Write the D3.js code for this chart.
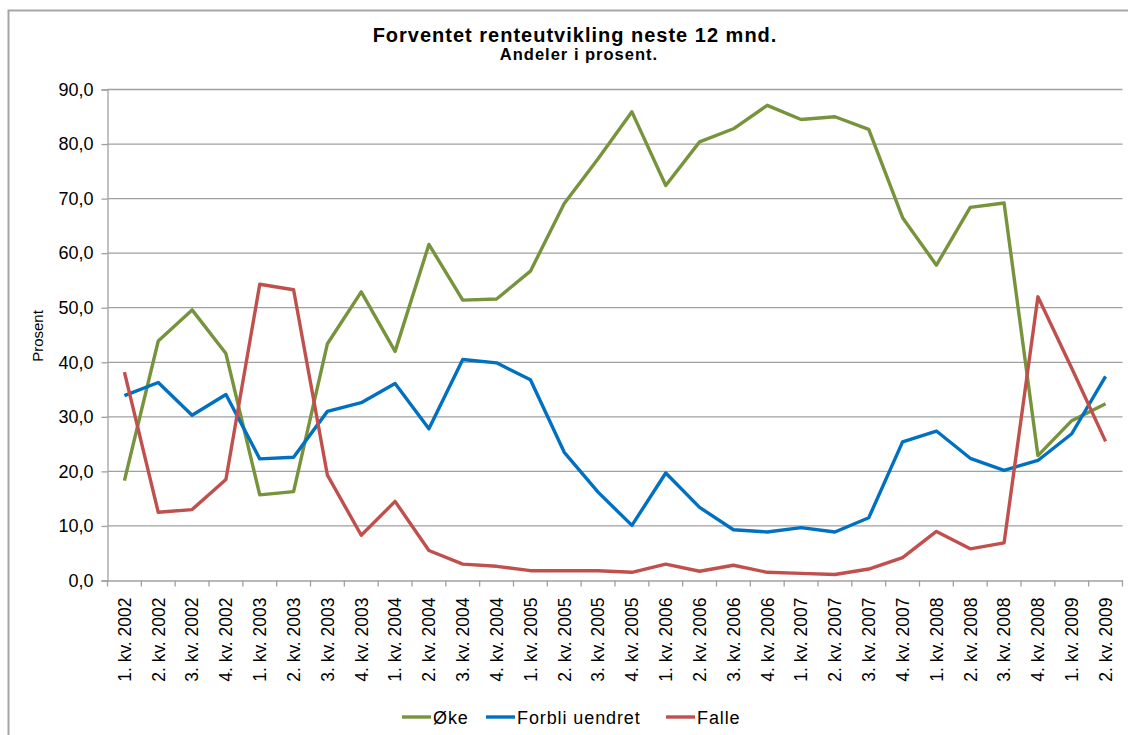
<!DOCTYPE html>
<html>
<head>
<meta charset="utf-8">
<script src="https://cdn.jsdelivr.net/npm/d3@7"></script>
<style>
  html, body { margin: 0; padding: 0; background: #fff; overflow: hidden; }
  svg { display: block; font-family: "Liberation Sans", Arial, sans-serif; }
</style>
</head>
<body>
<div id="chart"></div>
<script>
// Categories (quarters)
const quarters = [
    '1. kv. 2002', '2. kv. 2002', '3. kv. 2002', '4. kv. 2002',
    '1. kv. 2003', '2. kv. 2003', '3. kv. 2003', '4. kv. 2003',
    '1. kv. 2004', '2. kv. 2004', '3. kv. 2004', '4. kv. 2004',
    '1. kv. 2005', '2. kv. 2005', '3. kv. 2005', '4. kv. 2005',
    '1. kv. 2006', '2. kv. 2006', '3. kv. 2006', '4. kv. 2006',
    '1. kv. 2007', '2. kv. 2007', '3. kv. 2007', '4. kv. 2007',
    '1. kv. 2008', '2. kv. 2008', '3. kv. 2008', '4. kv. 2008',
    '1. kv. 2009', '2. kv. 2009'
];

// Series values (percent)
const oke = [18.3, 43.9, 49.6, 41.6, 15.7, 16.3, 43.4, 52.9, 42.0, 61.6,
    51.4, 51.6, 56.7, 69.1, 77.3, 85.9, 72.4, 80.4, 82.8, 87.1,
    84.5, 85.0, 82.7, 66.5, 57.8, 68.4, 69.2, 22.9, 29.3, 32.4];
const forbli = [33.9, 36.3, 30.3, 34.1, 22.3, 22.6, 31.0, 32.6, 36.1, 27.8,
    40.5, 39.9, 36.8, 23.5, 16.2, 10.1, 19.7, 13.4, 9.3, 8.9,
    9.7, 8.9, 11.5, 25.4, 27.4, 22.4, 20.2, 22.0, 26.9, 37.4];
const falle = [38.2, 12.5, 13.0, 18.5, 54.3, 53.3, 19.3, 8.3, 14.5, 5.5,
    3.0, 2.6, 1.8, 1.8, 1.8, 1.5, 3.0, 1.7, 2.8, 1.5,
    1.3, 1.1, 2.1, 4.2, 9.0, 5.8, 6.9, 52.0, 38.9, 25.5];

const yTicks = [0, 10, 20, 30, 40, 50, 60, 70, 80, 90];

const series = [
    { name: 'Øke', values: oke, color: '#77933C' },
    { name: 'Forbli uendret', values: forbli, color: '#0070C0' },
    { name: 'Falle', values: falle, color: '#C0504D' }
];

const width = 1128, height = 735;
const plot = { left: 107.5, right: 1122.5, top: 89.5, bottom: 580.5 };

const svg = d3.select('#chart').append('svg')
    .attr('width', width)
    .attr('height', height);

// Outer chart frame (only top and left edges fall inside the picture)
svg.append('path')
    .attr('d', 'M8.5,760 V10.5 H1200')
    .attr('fill', 'none')
    .attr('stroke', '#a6a6a6')
    .attr('stroke-width', 2);

// Scales
const x = d3.scaleBand()
    .domain(quarters)
    .range([plot.left, plot.right]);
const y = d3.scaleLinear()
    .domain([0, 90])
    .range([plot.bottom, plot.top]);
const cx = d => x(d) + x.bandwidth() / 2;
const fmt = v => d3.format('.1f')(v).replace('.', ',');

// Gridlines
svg.append('g')
    .selectAll('line')
    .data(yTicks.filter(t => t > 0))
    .join('line')
    .attr('x1', plot.left).attr('x2', plot.right)
    .attr('y1', d => y(d)).attr('y2', d => y(d))
    .attr('stroke', '#a0a0a0')
    .attr('stroke-width', 1.3);

// Y axis
const yAxis = svg.append('g')
    .attr('transform', `translate(${plot.left},0)`)
    .call(d3.axisLeft(y).tickValues(yTicks).tickSize(6).tickPadding(8).tickFormat(fmt));
yAxis.select('.domain').attr('stroke', '#a0a0a0').attr('stroke-width', 1.3);
yAxis.selectAll('.tick line').attr('stroke', '#a0a0a0').attr('stroke-width', 1.3);
yAxis.selectAll('.tick text')
    .attr('fill', '#000')
    .style('font-size', '18px')
    .style('font-family', '"Liberation Sans", Arial, sans-serif');

// X axis (labels)
const xAxis = svg.append('g')
    .attr('transform', `translate(0,${plot.bottom})`)
    .call(d3.axisBottom(x).tickSize(0).tickPadding(0));
xAxis.select('.domain').attr('stroke', '#a0a0a0').attr('stroke-width', 1.3);
xAxis.selectAll('.tick text')
    .attr('fill', '#000')
    .attr('transform', 'rotate(-90)')
    .attr('text-anchor', 'end')
    .attr('x', -17)
    .attr('y', 0)
    .attr('dy', '0.36em')
    .style('font-size', '17.5px')
    .style('font-family', '"Liberation Sans", Arial, sans-serif');

// X tick marks at category boundaries
svg.append('g')
    .selectAll('line')
    .data(quarters.map(q => x(q)).concat([plot.right]))
    .join('line')
    .attr('x1', d => d).attr('x2', d => d)
    .attr('y1', plot.bottom).attr('y2', plot.bottom + 6)
    .attr('stroke', '#a0a0a0')
    .attr('stroke-width', 1.3);

// Lines
const line = d3.line()
    .x((d, i) => cx(quarters[i]))
    .y(d => y(d));

svg.append('g')
    .selectAll('path')
    .data(series)
    .join('path')
    .attr('d', d => line(d.values))
    .attr('fill', 'none')
    .attr('stroke', d => d.color)
    .attr('stroke-width', 3.4)
    .attr('stroke-linejoin', 'round');

// Title
svg.append('text')
    .attr('x', 575).attr('y', 42)
    .attr('text-anchor', 'middle')
    .style('font-size', '20px')
    .style('font-weight', 'bold')
    .style('letter-spacing', '1px')
    .text('Forventet renteutvikling neste 12 mnd.');
svg.append('text')
    .attr('x', 579).attr('y', 60)
    .attr('text-anchor', 'middle')
    .style('font-size', '16.5px')
    .style('font-weight', 'bold')
    .style('letter-spacing', '1px')
    .text('Andeler i prosent.');

// Y axis title
svg.append('text')
    .attr('transform', 'translate(43,336) rotate(-90)')
    .attr('text-anchor', 'middle')
    .style('font-size', '15px')
    .text('Prosent');

// Legend
const legendX = [402, 486, 666];
const legend = svg.append('g')
    .selectAll('g')
    .data(series)
    .join('g')
    .attr('transform', (d, i) => `translate(${legendX[i]},717)`);
legend.append('line')
    .attr('x1', 0).attr('x2', 29)
    .attr('stroke', d => d.color)
    .attr('stroke-width', 3.4);
legend.append('text')
    .attr('x', 31).attr('y', 6.5)
    .style('font-size', '18px')
    .style('letter-spacing', '0.9px')
    .text(d => d.name);
</script>
</body>
</html>
